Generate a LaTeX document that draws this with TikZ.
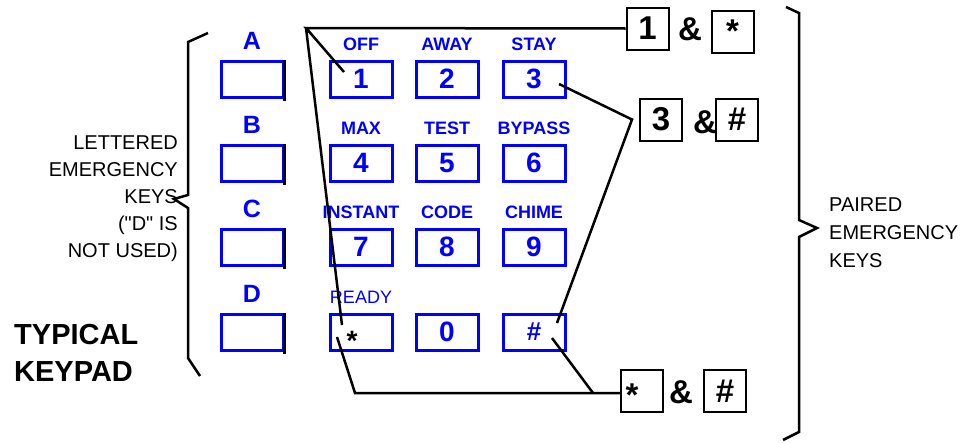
\documentclass[tikz,border=0pt]{standalone}
\usepackage{fontspec}
\setmainfont{Liberation Sans}[Ligatures=TeXOff]
\usetikzlibrary{calc}
\begin{document}
\begin{tikzpicture}[
        x=1pt, y=-1pt,
        key/.style={
            rectangle,
            draw=blue,
            line width=3pt,
            minimum width=62pt,
            minimum height=36pt,
            inner sep=0pt,
            text=blue,
            font=\fontsize{28}{30}\selectfont\bfseries
        },
        keylabel/.style={
            anchor=base,
            inner sep=0pt,
            text=blue,
            font=\fontsize{18}{20}\selectfont\bfseries
        },
        letter/.style={
            anchor=base,
            inner sep=0pt,
            text=blue,
            font=\fontsize{25}{28}\selectfont\bfseries
        },
        pairkey/.style={
            rectangle,
            draw,
            line width=2pt,
            minimum size=42pt,
            inner sep=0pt,
            font=\fontsize{33}{36}\selectfont\bfseries
        },
        amp/.style={
            inner sep=0pt,
            font=\fontsize{33}{36}\selectfont\bfseries
        },
        note/.style={
            inner sep=0pt,
            font=\fontsize{20}{27}\selectfont
        },
        link/.style={
            line width=2.5pt
        },
        brace/.style={
            line width=2.5pt,
            line join=miter
        }
    ]

        \useasboundingbox (0,0) rectangle (960,442);

        % lettered keys
        \foreach \l/\y in {A/79,B/163,C/247,D/332} {
            \node[key] (k\l) at (252,\y) {};
            \draw[line width=3pt] (k\l.north east) -- ([yshift=-2pt]k\l.south east);
            \node[letter] (l\l) at (252,\y-30) {\l};
        }

        % numbered keys
        \foreach \n/\x/\y/\lab in {1/361/79/OFF,2/447/79/AWAY,3/534/79/STAY,
                4/361/163/MAX,5/447/163/TEST,6/534/163/BYPASS,
                7/361/247/INSTANT,8/447/247/CODE,9/534/247/CHIME} {
            \node[key] (k\n) at (\x,\y) {\n};
            \node[keylabel] (t\n) at (\x,\y-29) {\lab};
        }
        \node[key, label={[inner sep=0pt, text=black, font=\fontsize{28}{30}\selectfont\bfseries, xshift=-9pt, yshift=-9pt]center:*}] (kstar) at (361,332) {};
        \node[key] (k0) at (447,332) {0};
        \node[key, font=\fontsize{26}{28}\selectfont\bfseries] (khash) at (534,332) {\#};
        \node[keylabel, font=\fontsize{18}{20}\selectfont] (tstar) at (361,303) {READY};

        % paired keys
        \node[pairkey] (p1) at (647.5,28.5) {1};
        \node[amp] (amp1) at (690,29) {\&};
        \node[pairkey] (p1star) at (732.5,31.5) {*};
        \node[pairkey] (p3) at (661,119.5) {3};
        \node[pairkey] (p3hash) at (737,119.5) {\#};
        \node[amp] (amp3) at (705,122) {\&};
        \node[pairkey, label={[inner sep=0pt, font=\fontsize{33}{36}\selectfont\bfseries, xshift=-10pt, yshift=-4pt]center:*}] (p0star) at (642,391) {};
        \node[amp] (amp0) at (681,392) {\&};
        \node[pairkey] (p0hash) at (725,391) {\#};

        % connectors
        \coordinate (apex) at (306,28);
        \coordinate (lowbend) at (355,393);
        \coordinate (hashjoin) at (593,393);
        \draw[link] (p1.west) -- (apex) -- ($(k1.center)+(-17,-7)$);
        \draw[link] (apex) -- ($(kstar.center)+(-19,-7)$);
        \draw[link] ($(k3.center)+(25,5)$) -- ([xshift=-7pt]p3.west) -- ($(khash.center)+(23,-9)$);
        \draw[link] ($(kstar.center)+(-24,5)$) -- (lowbend) -- (lowbend -| p0star.west);
        \draw[link] ($(khash.center)+(18,6)$) -- (hashjoin);

        % braces
        \draw[brace] (208,33) -- (188,42) -- (188,195) -- (174,199) -- (188,208) -- (188,358) -- (200,376);
        \draw[brace] (786,7) -- (799,13) -- (799,220) -- (817,228) -- (799,237) -- (799,432) -- (783,440);

        % side texts
        \node[note, align=right, anchor=north east] (lettered) at (178,136) {LETTERED\\EMERGENCY\\KEYS\\("D" IS\\NOT USED)};
        \node[note, align=left, anchor=north west, font=\fontsize{20}{28}\selectfont] (paired) at (829,198) {PAIRED\\EMERGENCY\\KEYS};
        \node[inner sep=0pt, align=left, anchor=north west, font=\fontsize{29}{37}\selectfont\bfseries] (typical) at (14,324) {TYPICAL\\KEYPAD};

    \end{tikzpicture}
\end{document}
